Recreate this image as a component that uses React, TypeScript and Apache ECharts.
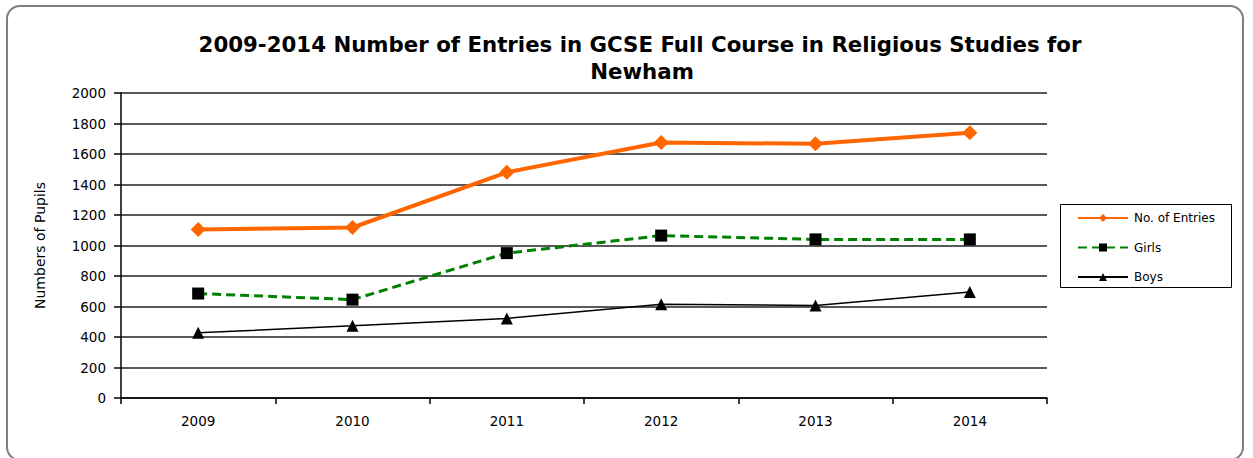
import React, { useEffect, useRef } from "react";
import * as echarts from "echarts";

const years = ["2009", "2010", "2011", "2012", "2013", "2014"];
const entries = [1105, 1118, 1480, 1675, 1667, 1740];
const girls = [685, 645, 950, 1065, 1040, 1040];
const boys = [428, 473, 522, 614, 607, 695];
const titleLines = ["2009-2014 Number of Entries in GCSE Full Course in Religious Studies for", "Newham"];

export default function App() {
  const ref = useRef<HTMLDivElement>(null);
  useEffect(() => {
    if (!ref.current) return;
    const chart = echarts.init(ref.current, undefined, { renderer: "svg" });
    const font = "'DejaVu Sans', Verdana, sans-serif";
    chart.setOption({
      animation: false,
      backgroundColor: "#ffffff",
      textStyle: { fontFamily: font },
      graphic: [
        {
          type: "rect",
          shape: { x: 7, y: 6, width: 1236, height: 454, r: 13 },
          style: { fill: "none", stroke: "#7f7f7f", lineWidth: 2 },
          silent: true,
        },
        {
          type: "rect",
          shape: { x: 1060.5, y: 204.5, width: 171, height: 83 },
          style: { fill: "#fff", stroke: "#000", lineWidth: 1 },
          silent: true,
          z: 0,
        },
        {
          type: "text",
          x: 640,
          y: 44,
          style: {
            text: titleLines[0],
            fontFamily: font,
            fontSize: 21.3,
            fontWeight: "bold",
            fill: "#000",
            align: "center",
            verticalAlign: "middle",
          },
        },
        {
          type: "text",
          x: 642,
          y: 71.5,
          style: {
            text: titleLines[1],
            fontFamily: font,
            fontSize: 21.3,
            fontWeight: "bold",
            fill: "#000",
            align: "center",
            verticalAlign: "middle",
          },
        },
      ],
      legend: {
        orient: "vertical",
        left: 1077,
        top: 212,
        itemWidth: 50,
        itemHeight: 10,
        itemGap: 17.5,
        padding: 0,
        z: 5,
        textStyle: { fontSize: 12, color: "#000", fontFamily: font, padding: [0, 0, 0, 1] },
        data: ["No. of Entries", "Girls", "Boys"],
      },
      grid: { left: 121, right: 206, top: 93, bottom: 60 },
      xAxis: {
        type: "category",
        data: years,
        boundaryGap: true,
        axisLine: { lineStyle: { color: "#000", width: 1.5 } },
        axisTick: { show: true, length: 6, lineStyle: { color: "#000", width: 1.5 } },
        axisLabel: { fontSize: 13.5, color: "#000", margin: 16, fontFamily: font },
        splitLine: { show: false },
      },
      yAxis: {
        type: "value",
        min: 0,
        max: 2000,
        interval: 200,
        name: "Numbers of Pupils",
        nameLocation: "middle",
        nameRotate: 90,
        nameGap: 74,
        nameTextStyle: { fontSize: 14, color: "#000", fontFamily: font },
        axisLine: { show: true, lineStyle: { color: "#000", width: 1.5 } },
        axisTick: { show: true, length: 7, lineStyle: { color: "#000", width: 1.5 } },
        axisLabel: {
          fontSize: 13.5,
          color: "#000",
          margin: 15,
          fontFamily: font,
          formatter: (v: number) => String(v),
        },
        splitLine: { show: true, lineStyle: { color: "#222", width: 1.5 } },
      },
      series: [
        {
          name: "No. of Entries",
          type: "line",
          data: entries,
          symbol: "diamond",
          symbolSize: 15,
          itemStyle: { color: "#ff6600" },
          lineStyle: { color: "#ff6600", width: 4 },
          z: 4,
        },
        {
          name: "Girls",
          type: "line",
          data: girls,
          symbol: "rect",
          symbolSize: 12,
          itemStyle: { color: "#000" },
          lineStyle: { color: "#008000", width: 3, type: [9, 5] },
          z: 3,
        },
        {
          name: "Boys",
          type: "line",
          data: boys,
          symbol: "triangle",
          symbolSize: 12,
          itemStyle: { color: "#000" },
          lineStyle: { color: "#000", width: 1.5 },
          z: 2,
        },
      ],
    });
    return () => chart.dispose();
  }, []);
  return (
    <div
      ref={ref}
      style={{ position: "absolute", left: 0, top: 0, width: 1253, height: 458 }}
    />
  );
}
